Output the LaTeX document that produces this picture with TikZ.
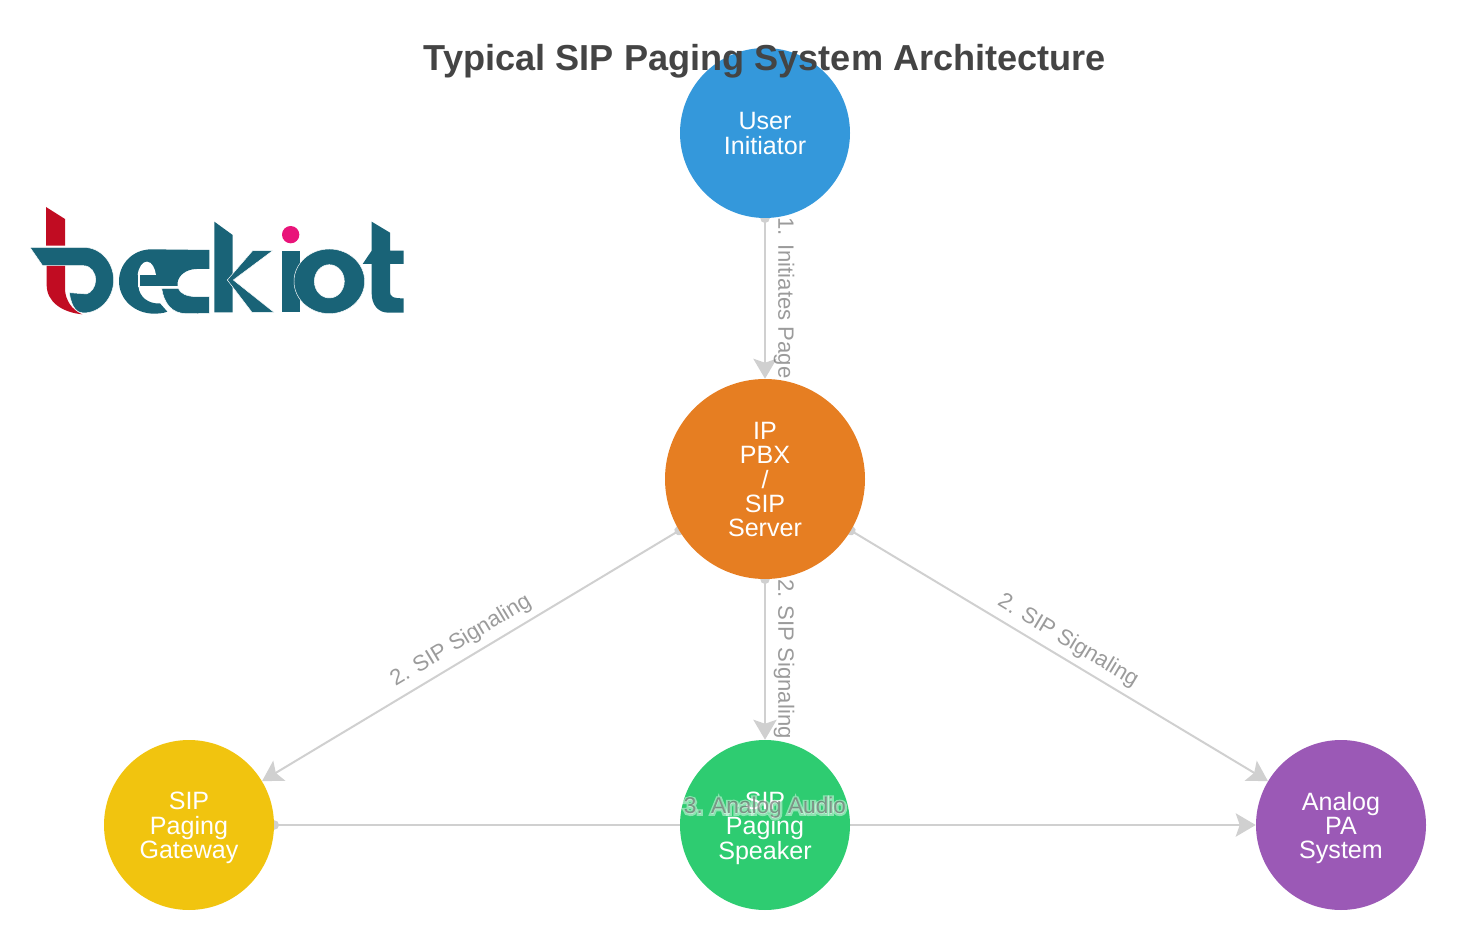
\documentclass[tikz,border=0pt]{standalone}
\usepackage{fontspec}
\setmainfont{Liberation Sans}
\usetikzlibrary{arrows.meta,backgrounds}
\definecolor{edgec}{HTML}{D0D0D0}
\definecolor{logoblue}{HTML}{196377}
\definecolor{logored}{HTML}{C10C22}
\definecolor{logopink}{HTML}{E9147A}
\definecolor{titlec}{HTML}{444444}
\renewcommand\arraystretch{.94}
\newcommand\peerbox[1]{\raisebox{0pt}[\dimexpr\height+6pt\relax][\depth]{\begin{tabular}{@{}c@{}}#1\end{tabular}}}
\tikzset{
  peer/.style={circle,inner sep=0pt,draw=none,text=white,font=\fontsize{18.8}{18}\selectfont},
  small/.style={peer,minimum size=127.5pt},
  big/.style={peer,minimum size=150pt},
  link/.style={draw=edgec,line width=1.5pt,shorten <=-3.5pt,{Circle[length=7pt,width=7pt]}-{Stealth[length=15pt,width=17.5pt,inset=3pt]}},
  elabel/.style={inner sep=0pt,text=black!65,text opacity=.6,font=\fontsize{16.6}{18}\selectfont},
  mixlabel/.style={inner sep=0pt,font=\fontsize{17}{18}\selectfont},
  logoshape/.style={fill=logoblue,draw=white,line width=.35pt}
}
\begin{document}
\begin{tikzpicture}[x=.75pt,y=-.75pt]
\useasboundingbox (0,0) rectangle (1482,934);
\node[small,fill={rgb,255:red,52;green,152;blue,219}] (user) at (765,133) {\peerbox{User\\Initiator}};
\node[big,fill={rgb,255:red,230;green,126;blue,34}] (pbx) at (765,479) {\peerbox{IP\\PBX\\/\\SIP\\Server}};
\node[small,fill={rgb,255:red,241;green,196;blue,15}] (gw) at (189,825) {\peerbox{SIP\\Paging\\Gateway}};
\node[small,fill={rgb,255:red,46;green,204;blue,113}] (spk) at (765,825) {\peerbox{SIP\\Paging\\Speaker}};
\node[small,fill={rgb,255:red,155;green,89;blue,182}] (pa) at (1341,825) {\peerbox{Analog\\PA\\System}};
\begin{scope}[on background layer]
\draw[link] (user) -- (pbx);
\draw[link] (pbx) -- (gw);
\draw[link] (pbx) -- (spk);
\draw[link] (pbx) -- (pa);
\draw[link] (gw) -- (pa);
\end{scope}
\node[elabel,rotate=-90] (l1) at (784,298) {1. Initiates Page};
\node[elabel,rotate=31] (l2) at (461,641) {2. SIP Signaling};
\node[elabel,rotate=-90] (l3) at (784,659) {2. SIP Signaling};
\node[elabel,rotate=-31] (l4) at (1068,641) {2. SIP Signaling};
\node[mixlabel,text=white,text opacity=.45] (l5h) at (765,808) {\special{pdf:code 2 Tr 3 w 1 1 1 RG}3. Analog Audio\special{pdf:code 0 Tr}};
\node[mixlabel,text=black!70,text opacity=.55] (l5) at (765,808) {3. Analog Audio};
\node[inner sep=0pt,text=titlec,font=\bfseries\fontsize{27.1}{30}\selectfont] (title) at (765,61) {Typical SIP Paging System Architecture};
% logo
\begin{scope}[shift={(20,195)},x=.25pt,y=-.25pt]
\fill[logored] (78,36) -- (135,72) -- (135,152) -- (78,152) -- cycle;
\fill[logored] (80,205) -- (135,205) -- (135,285) .. controls (137,315) and (155,345) .. (187,358) .. controls (125,352) and (80,320) .. (80,270) -- cycle;
\path[logoshape] (30,157) -- (190,157) .. controls (245,157) and (281,205) .. (281,255) .. controls (281,310) and (240,354) .. (190,354) .. controls (172,354) and (155,340) .. (148,293) -- (200,297) .. controls (215,292) and (227,275) .. (227,255) .. controls (227,232) and (212,212) .. (190,212) -- (68,212) -- cycle;
\fill[logoblue] (568,165) -- (395,163) .. controls (335,163) and (297,210) .. (297,258) .. controls (297,315) and (345,355) .. (400,356) .. controls (415,356) and (430,355) .. (442,350) -- (420,325) .. controls (385,328) and (357,305) .. (355,273) -- (473,273) -- (473,262) .. controls (475,243) and (497,222) .. (530,222) -- (568,222) -- cycle;
\fill[white] (353,240) .. controls (356,215) and (368,200) .. (381,200) .. controls (396,200) and (405,220) .. (408,240) -- cycle;
\fill[white] (353,238) rectangle (361,275);
\path[logoshape] (425,280) -- (475,280) .. controls (480,295) and (500,305) .. (530,305) -- (568,305) -- (568,355) -- (500,356) .. controls (455,356) and (432,325) .. (425,280) -- cycle;
\fill[logoblue] (583,80) -- (638,120) -- (638,352) -- (583,352) -- cycle;
\path[logoshape] (698,167) -- (758,167) -- (640,255) -- (762,352) -- (696,352) -- (622,255) -- cycle;
\fill[logoblue] (787,168) rectangle (840,351);
\fill[logopink] (812,119) circle [x radius=26,y radius=26];
\path[logoshape,even odd rule] (928,259) ellipse [x radius=106,y radius=97] (928,259) ellipse [x radius=45,y radius=50];
\fill[logoblue] (1055,80) -- (1110,113) -- (1110,167) -- (1151,167) -- (1151,207) -- (1110,207) -- (1110,290) .. controls (1110,305) and (1118,310) .. (1151,310) -- (1151,353) -- (1105,353) .. controls (1075,353) and (1055,330) .. (1055,295) -- (1055,207) -- (1028,207) -- (1055,167) -- cycle;
\end{scope}
\end{tikzpicture}
\end{document}
